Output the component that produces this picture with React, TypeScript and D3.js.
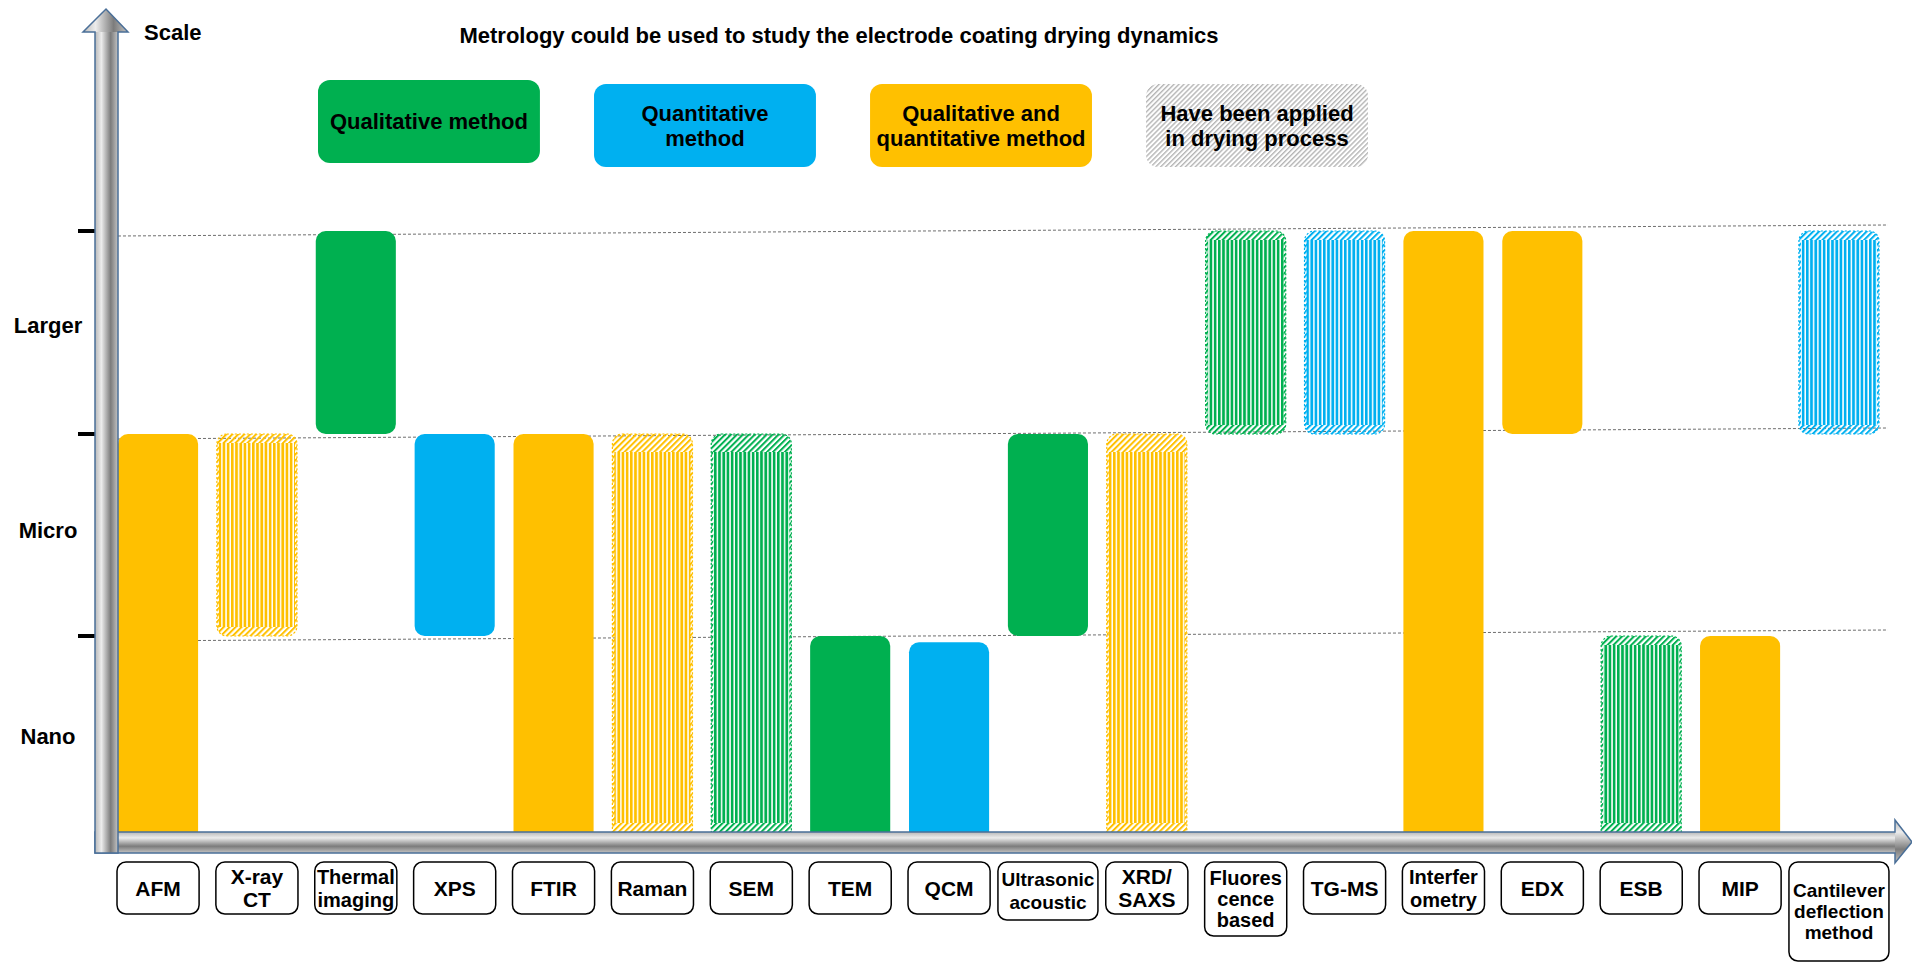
import React from 'react';
import * as d3 from 'd3';

// metrology methods along the x axis
const methods = [
  'AFM', 'X-ray CT', 'Thermal imaging', 'XPS', 'FTIR', 'Raman', 'SEM', 'TEM', 'QCM',
  'Ultrasonic acoustic', 'XRD/SAXS', 'Fluorescence based', 'TG-MS', 'Interferometry',
  'EDX', 'ESB', 'MIP', 'Cantilever deflection method',
];
const methodLabelLines = [
  ['AFM'], ['X-ray', 'CT'], ['Thermal', 'imaging'], ['XPS'], ['FTIR'], ['Raman'], ['SEM'],
  ['TEM'], ['QCM'], ['Ultrasonic', 'acoustic'], ['XRD/', 'SAXS'], ['Fluores', 'cence', 'based'],
  ['TG-MS'], ['Interfer', 'ometry'], ['EDX'], ['ESB'], ['MIP'], ['Cantilever', 'deflection', 'method'],
];
// scale range covered by each method (0 = bottom of nano, 1 = nano/micro, 2 = micro/larger, 3 = top)
const scaleFrom = [0, 1, 2, 1, 0, 0, 0, 0, 0, 1, 0, 2, 2, 0, 2, 0, 0, 2];
const scaleTo = [2, 2, 3, 2, 2, 2, 2, 1, 0.97, 2, 2, 3, 3, 3, 3, 1, 1, 3];
const methodKind = [
  'both', 'both', 'qual', 'quant', 'both', 'both', 'qual', 'qual', 'quant',
  'qual', 'both', 'qual', 'quant', 'both', 'both', 'qual', 'both', 'quant',
];
const appliedInDrying = [
  false, true, false, false, false, true, true, false, false,
  false, true, true, true, false, false, true, false, true,
];

const scaleLevels = ['Nano', 'Micro', 'Larger'];
const levelTicks = [1, 2, 3];

const legendKinds = ['qual', 'quant', 'both', 'applied'];
const legendLabels = [
  ['Qualitative method'],
  ['Quantitative', 'method'],
  ['Qualitative and', 'quantitative method'],
  ['Have been applied', 'in drying process'],
];

const title = 'Metrology could be used to study the electrode coating drying dynamics';

const FONT = '"Liberation Sans", Arial, Helvetica, sans-serif';
const kindColor: Record<string, string> = { qual: '#00B050', quant: '#00B0F0', both: '#FFC000' };
const OUTLINE = '#4a6f98';

const W = 1912;
const H = 963;

const App: React.FC = () => {
  const x = d3.scaleBand().domain(methods).range([118, 1879]).paddingInner(0.19);
  const y = d3.scaleLinear().domain([0, 1, 2, 3]).range([845, 636, 434, 231]);
  const lx = d3.scaleBand().domain(legendKinds).range([318, 1368]).paddingInner(0.196);
  const bw = x.bandwidth();
  const axisTop = 832;

  return (
    <svg width={W} height={H} style={{ position: 'absolute', left: 0, top: 0, background: '#fff' }}
      fontFamily={FONT}>
      <defs>
        {Object.entries(kindColor).map(([k, c]) => (
          <React.Fragment key={k}>
            <pattern id={`diag-${k}`} width={4.2} height={4.2} patternUnits="userSpaceOnUse"
              patternTransform="rotate(45)">
              <rect width={2} height={4.2} fill={c} />
            </pattern>
            <pattern id={`vert-${k}`} width={4.2} height={4} patternUnits="userSpaceOnUse">
              <rect width={4.2} height={4} fill="#fff" />
              <rect width={2.7} height={4} fill={c} />
            </pattern>
          </React.Fragment>
        ))}
        <pattern id="diag-gray" width={3.5} height={3.5} patternUnits="userSpaceOnUse"
          patternTransform="rotate(45)">
          <rect width={1.4} height={3.5} fill="#b5b5b5" />
        </pattern>
        <linearGradient id="metalV" x1="0" y1="0" x2="1" y2="0">
          <stop offset="0%" stopColor="#b8b8b8" />
          <stop offset="28%" stopColor="#ececec" />
          <stop offset="48%" stopColor="#b4b4b4" />
          <stop offset="68%" stopColor="#7c7c7c" />
          <stop offset="85%" stopColor="#a2a2a2" />
          <stop offset="100%" stopColor="#c4c4c4" />
        </linearGradient>
        <linearGradient id="metalH" x1="0" y1="0" x2="0" y2="1">
          <stop offset="0%" stopColor="#b8b8b8" />
          <stop offset="28%" stopColor="#ececec" />
          <stop offset="48%" stopColor="#b4b4b4" />
          <stop offset="68%" stopColor="#7c7c7c" />
          <stop offset="85%" stopColor="#a2a2a2" />
          <stop offset="100%" stopColor="#c4c4c4" />
        </linearGradient>
      </defs>

      {/* title */}
      <text x={839} y={43} textAnchor="middle" fontSize={22} fontWeight="bold">{title}</text>
      <text x={144} y={40} fontSize={22} fontWeight="bold">Scale</text>

      {/* legend */}
      {legendKinds.map((k, i) => {
        const lines = legendLabels[i];
        const top = i === 0 ? 80 : 84;
        const cy = top + 42;
        return (
          <g key={k}>
            <rect x={lx(k)} y={top} width={lx.bandwidth()} height={83} rx={12}
              fill={k === 'applied' ? 'url(#diag-gray)' : kindColor[k]} />
            {lines.map((l, j) => (
              <text key={j} x={lx(k)! + lx.bandwidth() / 2}
                y={cy + (j - (lines.length - 1) / 2) * 25 + 7}
                textAnchor="middle" fontSize={22} fontWeight="bold">{l}</text>
            ))}
          </g>
        );
      })}

      {/* dashed level lines */}
      {levelTicks.map(t => (
        <g key={t}>
          <line x1={118} x2={1888} y1={y(t) + 5} y2={y(t) - 6} stroke="#6e6e6e"
            strokeWidth={1} strokeDasharray="3 2" />
          <line x1={78} x2={95} y1={y(t)} y2={y(t)} stroke="#000" strokeWidth={4} />
        </g>
      ))}

      {/* level labels */}
      {scaleLevels.map((s, i) => (
        <text key={s} x={48} y={y(i + 0.5) + 3 - (i === 2 ? 3 : 0)} textAnchor="middle" fontSize={22}
          fontWeight="bold">{s}</text>
      ))}

      {/* method bars */}
      {methods.map((m, i) => {
        const x0 = x(m)!;
        const yTop = y(scaleTo[i]);
        const yBot = y(scaleFrom[i]);
        const kind = methodKind[i];
        const color = kindColor[kind];
        if (!appliedInDrying[i]) {
          return <rect key={m} x={x0} y={yTop} width={bw} height={yBot - yTop} rx={10} fill={color} />;
        }
        const inset = 9 * (scaleTo[i] - scaleFrom[i]);
        const innerBot = Math.min(yBot, axisTop) - 9;
        return (
          <g key={m}>
            <rect x={x0} y={yTop} width={bw} height={yBot - yTop} rx={10}
              fill={`url(#diag-${kind})`} stroke={color} strokeWidth={1.2} strokeDasharray="2 2" />
            <rect x={x0 + 2} y={yTop + inset} width={bw - 4} height={innerBot - yTop - inset}
              fill={`url(#vert-${kind})`} />
          </g>
        );
      })}

      {/* x axis arrow */}
      <rect x={95} y={832} width={1800} height={21} fill="url(#metalH)" />
      <polygon points="1895,820 1912,842 1895,863" fill="url(#metalH)" />
      <path d="M95,832 L1895,832 L1895,820 L1912,842 L1895,863 L1895,853 L95,853 Z"
        fill="none" stroke={OUTLINE} strokeWidth={1.5} />

      {/* y axis arrow */}
      <rect x={95} y={32} width={23} height={821} fill="url(#metalV)" />
      <polygon points="83,32 106,9 128,32" fill="url(#metalV)" />
      <path d="M95,853 L95,32 L83,32 L106,9 L128,32 L118,32 L118,853 Z"
        fill="none" stroke={OUTLINE} strokeWidth={1.5} />

      {/* method label boxes */}
      {methods.map((m, i) => {
        const lines = methodLabelLines[i];
        const maxLen = d3.max(lines, l => l.length)!;
        const wide = maxLen >= 10;
        const boxW = wide ? 100 : bw + 2;
        const boxH = lines.length === 3 ? (wide ? 99 : 74) : (wide ? 58 : 52);
        const fs = wide ? 19 : maxLen >= 7 ? 20 : 21;
        const lh = lines.length === 3 ? 21 : 23;
        const cx = x(m)! + bw / 2;
        const top = 862;
        const cy = top + boxH / 2;
        return (
          <g key={m}>
            <rect x={cx - boxW / 2} y={top} width={boxW} height={boxH} rx={9} fill="#fff"
              stroke="#000" strokeWidth={1.5} />
            {lines.map((l, j) => (
              <text key={j} x={cx} y={cy + (j - (lines.length - 1) / 2) * lh + fs * 0.36}
                textAnchor="middle" fontSize={fs} fontWeight="bold">{l}</text>
            ))}
          </g>
        );
      })}
    </svg>
  );
};

export default App;
